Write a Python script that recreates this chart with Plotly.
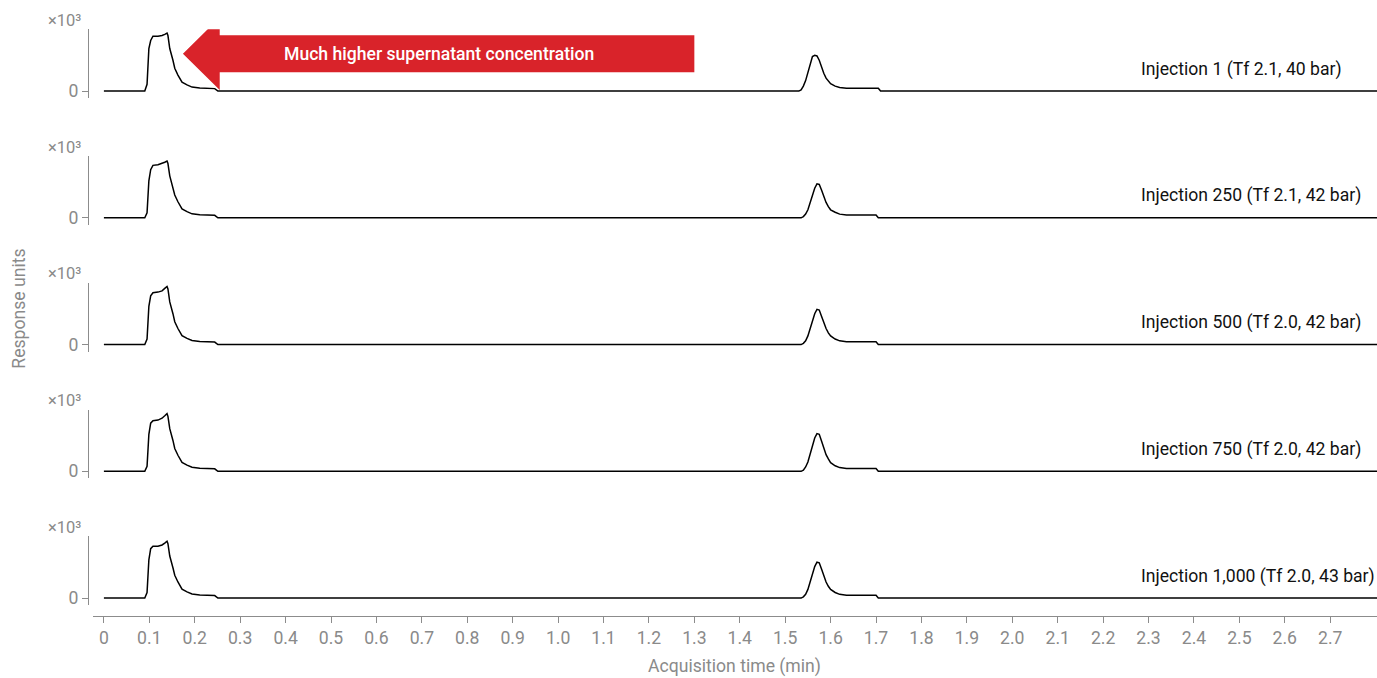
import plotly.graph_objects as go

# Shared acquisition-time grid (min)
time_min = [
    0.0, 0.090, 0.095, 0.097, 0.099, 0.103, 0.108, 0.119, 0.128, 0.134, 0.139,
    0.141, 0.145, 0.152, 0.156, 0.163, 0.172, 0.183, 0.194, 0.211, 0.244, 0.251,
    1.525, 1.530, 1.535, 1.540, 1.545, 1.550, 1.555, 1.560, 1.565, 1.570, 1.575,
    1.580, 1.585, 1.590, 1.595, 1.600, 1.610, 1.620, 1.635, 1.650, 1.700, 1.705,
    1.710, 2.803,
]

# Detector response (x10^3) for each injection
resp_inj_1 = [
    0, 0, 0.11, 0.34, 0.69, 0.82, 0.89, 0.89, 0.90, 0.92, 0.94,
    0.90, 0.69, 0.50, 0.37, 0.26, 0.145, 0.10, 0.065, 0.05, 0.04, 0,
    0, 0, 0.02, 0.08, 0.17, 0.30, 0.45, 0.56, 0.58, 0.57, 0.50,
    0.38, 0.29, 0.21, 0.16, 0.12, 0.08, 0.06, 0.045, 0.045, 0.045, 0.045,
    0, 0,
]
resp_inj_250 = [
    0, 0, 0.08, 0.28, 0.60, 0.78, 0.85, 0.86, 0.88, 0.90, 0.92,
    0.88, 0.68, 0.49, 0.37, 0.26, 0.145, 0.10, 0.065, 0.05, 0.04, 0,
    0, 0, 0, 0.02, 0.06, 0.13, 0.25, 0.38, 0.48, 0.55, 0.54,
    0.45, 0.34, 0.25, 0.18, 0.13, 0.09, 0.06, 0.045, 0.045, 0.045, 0,
    0, 0,
]
resp_inj_500 = [
    0, 0, 0.09, 0.30, 0.62, 0.79, 0.84, 0.85, 0.87, 0.91, 0.94,
    0.90, 0.69, 0.50, 0.37, 0.26, 0.145, 0.10, 0.065, 0.05, 0.04, 0,
    0, 0, 0, 0.02, 0.06, 0.14, 0.26, 0.40, 0.50, 0.57, 0.56,
    0.46, 0.35, 0.26, 0.19, 0.14, 0.09, 0.06, 0.045, 0.045, 0.045, 0,
    0, 0,
]
resp_inj_750 = [
    0, 0, 0.08, 0.28, 0.60, 0.78, 0.82, 0.83, 0.86, 0.90, 0.935,
    0.89, 0.69, 0.50, 0.37, 0.26, 0.145, 0.10, 0.065, 0.05, 0.04, 0,
    0, 0, 0, 0.02, 0.07, 0.15, 0.28, 0.43, 0.54, 0.61, 0.60,
    0.49, 0.37, 0.27, 0.20, 0.14, 0.09, 0.06, 0.045, 0.045, 0.045, 0,
    0, 0,
]
resp_inj_1000 = [
    0, 0, 0.09, 0.30, 0.62, 0.80, 0.84, 0.84, 0.86, 0.89, 0.92,
    0.88, 0.68, 0.49, 0.37, 0.26, 0.145, 0.10, 0.065, 0.05, 0.04, 0,
    0, 0, 0, 0.02, 0.06, 0.14, 0.26, 0.40, 0.51, 0.58, 0.57,
    0.47, 0.35, 0.26, 0.19, 0.14, 0.09, 0.06, 0.045, 0.045, 0.045, 0,
    0, 0,
]

responses = [resp_inj_1, resp_inj_250, resp_inj_500, resp_inj_750, resp_inj_1000]
labels = [
    "Injection 1 (Tf 2.1, 40 bar)",
    "Injection 250 (Tf 2.1, 42 bar)",
    "Injection 500 (Tf 2.0, 42 bar)",
    "Injection 750 (Tf 2.0, 42 bar)",
    "Injection 1,000 (Tf 2.0, 43 bar)",
]
x_ticks = [round(i * 0.1, 1) for i in range(28)]
x_tick_text = ["0"] + [f"{v:.1f}" for v in x_ticks[1:]]

W, H = 1377, 678
GREY = "#8c8c8c"
TEXT_GREY = "#8a8a8a"
FONT = "Roboto"
FS = 17.6
X_RANGE = [-0.024, 2.803]
Y_RANGE = [-0.113, 1.0]

fig = go.Figure()
layout = dict(
    width=W, height=H,
    margin=dict(l=0, r=0, t=0, b=0),
    paper_bgcolor="white", plot_bgcolor="white",
    showlegend=False,
    font=dict(family=FONT, color=TEXT_GREY, size=FS),
)

annotations = []
for k, (resp, lab) in enumerate(zip(responses, labels)):
    n = k + 1
    xa = "x" if n == 1 else f"x{n}"
    ya = "y" if n == 1 else f"y{n}"
    zero_px = 91.5 + 127.3 * k
    dom = [1 - (zero_px + 7) / H, 1 - (zero_px - 62) / H]
    fig.add_trace(go.Scatter(
        x=time_min, y=resp, mode="lines",
        line=dict(color="black", width=1.5),
        xaxis=xa, yaxis=ya, hoverinfo="skip",
    ))
    xkey = "xaxis" if n == 1 else f"xaxis{n}"
    ykey = "yaxis" if n == 1 else f"yaxis{n}"
    is_last = n == len(responses)
    xcfg = dict(
        domain=[93 / W, 1.0], range=X_RANGE, fixedrange=True,
        showgrid=False, zeroline=False,
    )
    if is_last:
        xcfg.update(
            anchor="free", position=1 - 619 / H,
            showline=True, linecolor=GREY, linewidth=1.2,
            ticks="outside", ticklen=6, tickcolor=GREY,
            tickvals=x_ticks, ticktext=x_tick_text,
            tickfont=dict(family=FONT, size=FS, color=TEXT_GREY),
        )
    else:
        xcfg.update(anchor=ya, visible=False, matches="x5")
    layout[xkey] = xcfg
    layout[ykey] = dict(
        domain=dom, range=Y_RANGE, fixedrange=True,
        anchor="free", position=88 / W,
        showline=True, linecolor=GREY, linewidth=1.2,
        showgrid=False, zeroline=False,
        ticks="outside", ticklen=6, tickcolor=GREY,
        tickvals=[0], ticktext=["0"],
        tickfont=dict(family=FONT, size=FS, color=TEXT_GREY),
    )
    annotations.append(dict(
        xref="paper", yref=ya, x=1139 / W, y=0.355,
        xanchor="left", yanchor="middle", showarrow=False,
        text=lab, font=dict(family=FONT, size=FS, color="#111111"),
    ))
    annotations.append(dict(
        xref="paper", yref="paper", x=83 / W, y=1 - (zero_px - 71) / H,
        xanchor="right", yanchor="middle", showarrow=False,
        text="×10³", font=dict(family=FONT, size=16.5, color=TEXT_GREY),
    ))

# Axis titles
annotations.append(dict(
    xref="paper", yref="paper", x=734 / W, y=1 - 669 / H,
    xanchor="center", yanchor="middle", showarrow=False,
    text="Acquisition time (min)", font=dict(family=FONT, size=FS, color=TEXT_GREY),
))
annotations.append(dict(
    xref="paper", yref="paper", x=19 / W, y=1 - 310 / H,
    xanchor="center", yanchor="middle", showarrow=False, textangle=-90,
    text="Response units", font=dict(family=FONT, size=FS, color=TEXT_GREY),
))

# Call-out arrow over the first injection's early peak
arrow_path = (
    "M 1.30,0.903 L 0.255,0.903 L 0.255,1.194 L 0.174,0.605 "
    "L 0.255,0.016 L 0.255,0.306 L 1.30,0.306 Z"
)
layout["shapes"] = [dict(
    type="path", xref="x", yref="y", path=arrow_path,
    fillcolor="#d9232a", line=dict(width=0), layer="above",
)]
annotations.append(dict(
    xref="x", yref="y", x=0.737, y=0.6, xanchor="center", yanchor="middle",
    showarrow=False, text="Much higher supernatant concentration",
    font=dict(family=FONT, size=FS, color="white", weight=500),
))

layout["annotations"] = annotations
fig.update_layout(**layout)
fig.write_html("out.html")
